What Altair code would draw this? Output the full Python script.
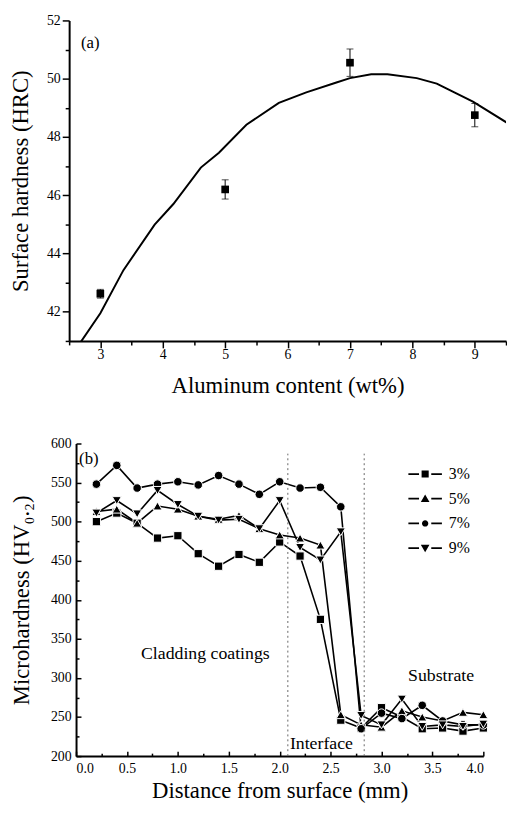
import altair as alt
import pandas as pd

FONT = "Liberation Serif"

# ---------------- panel (a) data ----------------
al_content = [3, 5, 7, 9]
surface_hrc = [42.62, 46.2, 50.55, 48.75]
hrc_err = [0.15, 0.33, 0.47, 0.40]

fit_x = [2.65, 3.0, 3.37, 3.87, 4.17, 4.61, 4.9, 5.34, 5.86, 6.3, 6.77, 7.0, 7.34, 7.6, 8.07, 8.39, 8.97, 9.53]
fit_y = [40.85, 41.95, 43.43, 44.99, 45.7, 46.95, 47.46, 48.42, 49.17, 49.53, 49.86, 50.02, 50.15, 50.15, 50.02, 49.83, 49.21, 48.47]

# ---------------- panel (b) data ----------------
distance = [0.2, 0.4, 0.6, 0.8, 1.0, 1.2, 1.4, 1.6, 1.8, 2.0,
            2.2, 2.4, 2.6, 2.8, 3.0, 3.2, 3.4, 3.6, 3.8, 4.0]
hv_3 = [500, 511, 498, 479, 482, 459, 443, 458, 448, 474, 456, 375, 246, 236, 262, 250, 235, 236, 232, 236]
hv_5 = [513, 516, 498, 520, 516, 507, 503, 508, 491, 483, 479, 470, 253, 240, 237, 258, 250, 245, 256, 253]
hv_7 = [548, 572, 543, 548, 551, 547, 559, 548, 535, 551, 543, 544, 519, 235, 255, 248, 265, 245, 240, 240]
hv_9 = [511, 527, 510, 540, 522, 507, 502, 503, 491, 527, 467, 451, 487, 252, 240, 273, 238, 240, 238, 241]
series_names = ["3%", "5%", "7%", "9%"]
series_shapes = ["square", "triangle-up", "circle", "triangle-down"]
series_sizes = [70, 85, 75, 85]

boundary_x = [2.08, 2.83]
boundary_lo = [200, 200]
boundary_hi = [587, 587]

notes_b = ["Cladding coatings", "Interface", "Substrate"]
notes_b_x = [1.27, 2.41, 3.585]
notes_b_y = [330, 216, 303]

# legend symbols: two short bars + marker (all filled)
_bars = "M-1.7,-0.09H-0.62V0.09H-1.7ZM0.62,-0.09H1.7V0.09H0.62Z"
legend_paths = [
    _bars + "M-0.36,-0.36H0.36V0.36H-0.36Z",
    _bars + "M0,-0.44L0.44,0.34L-0.44,0.34Z",
    _bars + "M0.32,0A0.32,0.32,0,1,1,-0.32,0A0.32,0.32,0,1,1,0.32,0Z",
    _bars + "M0,0.44L0.44,-0.34L-0.44,-0.34Z",
]

# ---------------- frames ----------------
pts = pd.DataFrame({
    "al": al_content,
    "hrc": surface_hrc,
    "lo": [h - e for h, e in zip(surface_hrc, hrc_err)],
    "hi": [h + e for h, e in zip(surface_hrc, hrc_err)],
})
caps = pd.DataFrame({
    "al": al_content + al_content,
    "cap": list(pts["lo"]) + list(pts["hi"]),
})
fit = pd.DataFrame({"al": fit_x, "hrc": fit_y})
label_a = pd.DataFrame({"al": [2.69], "hrc": [51.23], "t": ["(a)"]})

rows = []
for name, shp, sz, vals in zip(series_names, series_shapes, series_sizes, [hv_3, hv_5, hv_7, hv_9]):
    for d, v in zip(distance, vals):
        rows.append({"d": d, "hv": v, "series": name, "sym": shp, "msize": sz})
prof = pd.DataFrame(rows)
bounds = pd.DataFrame({"d": boundary_x, "lo": boundary_lo, "hi": boundary_hi})
notes = pd.DataFrame({"d": notes_b_x, "hv": notes_b_y, "t": notes_b})
label_b = pd.DataFrame({"d": [0.03], "hv": [580], "t": ["(b)"]})

# ---------------- panel (a) ----------------
xs_a = alt.Scale(domain=[2.5, 9.5], nice=False, zero=False)
ys_a = alt.Scale(domain=[41, 52], nice=False, zero=False)

xa_major = alt.Axis(orient="bottom", title="Aluminum content (wt%)", values=[3, 4, 5, 6, 7, 8, 9],
                    format="d", tickSize=7, labelPadding=0, titlePadding=13,
                    domainWidth=2, tickWidth=1.5)
ya_major = alt.Axis(orient="left", title="Surface hardness (HRC)", values=[42, 44, 46, 48, 50, 52],
                    format="d", tickSize=7, labelPadding=2, titlePadding=14,
                    domainWidth=2, tickWidth=1.5)
xa_minor = alt.Axis(orient="bottom", title=None, values=[2.5, 3.5, 4.5, 5.5, 6.5, 7.5, 8.5, 9.5],
                    labels=False, domain=False, tickSize=4, tickWidth=1.5)
ya_minor = alt.Axis(orient="left", title=None, values=[41, 43, 45, 47, 49, 51],
                    labels=False, domain=False, tickSize=4, tickWidth=1.5)

curve = alt.Chart(fit).mark_line(color="black", strokeWidth=2, clip=True).encode(
    x=alt.X("al:Q", scale=xs_a, axis=xa_major),
    y=alt.Y("hrc:Q", scale=ys_a, axis=ya_major),
)
err = alt.Chart(pts).mark_rule(color="black", strokeWidth=1).encode(
    x=alt.X("al:Q", scale=xs_a, axis=None),
    y=alt.Y("lo:Q", scale=ys_a, axis=None),
    y2="hi:Q",
)
cap = alt.Chart(caps).mark_tick(color="black", thickness=1, size=7, orient="horizontal").encode(
    x=alt.X("al:Q", scale=xs_a, axis=None),
    y=alt.Y("cap:Q", scale=ys_a, axis=None),
)
sq = alt.Chart(pts).mark_point(shape="square", filled=True, color="black", size=60, opacity=1).encode(
    x=alt.X("al:Q", scale=xs_a, axis=xa_minor),
    y=alt.Y("hrc:Q", scale=ys_a, axis=ya_minor),
)
ta = alt.Chart(label_a).mark_text(align="left", baseline="middle", font=FONT, fontSize=17).encode(
    x=alt.X("al:Q", scale=xs_a, axis=None),
    y=alt.Y("hrc:Q", scale=ys_a, axis=None),
    text="t:N",
)
top = alt.layer(curve, err, cap, sq, ta).resolve_axis(
    x="independent", y="independent"
).properties(width=443, height=325)

# ---------------- panel (b) ----------------
# plot starts 7px to the right of the shared left edge, like the reference
xs_b = alt.Scale(domain=[0, 4], nice=False, zero=False, range=[7, 420])
ys_b = alt.Scale(domain=[200, 600], nice=False, zero=False)

x_major = [0, 0.5, 1.0, 1.5, 2.0, 2.5, 3.0, 3.5, 4.0]
x_minor = [0.25, 0.75, 1.25, 1.75, 2.25, 2.75, 3.25, 3.75]
y_major = [200, 250, 300, 350, 400, 450, 500, 550, 600]
y_minor = [225, 275, 325, 375, 425, 475, 525, 575]

xA = alt.Axis(orient="bottom", title="Distance from surface (mm)", values=x_major, format=".1f",
              ticks=False, tickSize=0, labelPadding=6, titlePadding=4, domainWidth=2)
yA = alt.Axis(orient="left", title="Microhardness (HV₀.₂)", values=y_major, format="d",
              ticks=False, tickSize=0, labelPadding=5, titlePadding=17, domainWidth=2, offset=-7)
xB = alt.Axis(orient="bottom", title=None, values=x_major, labels=False, domain=False,
              tickSize=5, offset=-5, tickWidth=1.5)
yB = alt.Axis(orient="left", title=None, values=y_major, labels=False, domain=False,
              tickSize=5, offset=-12, tickWidth=1.5)
xC = alt.Axis(orient="bottom", title=None, values=x_minor, labels=False, domain=False,
              tickSize=3, offset=-3, tickWidth=1.5)
yC = alt.Axis(orient="left", title=None, values=y_minor, labels=False, domain=False,
              tickSize=3, offset=-10, tickWidth=1.5)

lines = alt.Chart(prof).mark_line(color="black", strokeWidth=1.6).encode(
    x=alt.X("d:Q", scale=xs_b, axis=xA),
    y=alt.Y("hv:Q", scale=ys_b, axis=yA),
    detail="series:N",
    order="d:Q",
)
marks = alt.Chart(prof).mark_point(filled=True, fill="black", stroke="white", strokeWidth=1.0, opacity=1).encode(
    x=alt.X("d:Q", scale=xs_b, axis=xB),
    y=alt.Y("hv:Q", scale=ys_b, axis=yB),
    shape=alt.Shape("sym:N", scale=None, legend=None),
    size=alt.Size("msize:Q", scale=None, legend=None),
)
dots = alt.Chart(bounds).mark_rule(color="#666666", strokeDash=[2, 3], strokeWidth=1).encode(
    x=alt.X("d:Q", scale=xs_b, axis=xC),
    y=alt.Y("lo:Q", scale=ys_b, axis=yC),
    y2="hi:Q",
)
txt = alt.Chart(notes).mark_text(align="center", baseline="middle", font=FONT, fontSize=18).encode(
    x=alt.X("d:Q", scale=xs_b, axis=None),
    y=alt.Y("hv:Q", scale=ys_b, axis=None),
    text="t:N",
)
tb = alt.Chart(label_b).mark_text(align="left", baseline="middle", font=FONT, fontSize=17).encode(
    x=alt.X("d:Q", scale=xs_b, axis=None),
    y=alt.Y("hv:Q", scale=ys_b, axis=None),
    text="t:N",
)
leg = alt.Chart(prof).transform_filter("false").mark_point(
    filled=True, color="black", opacity=1
).encode(
    shape=alt.Shape(
        "series:N",
        scale=alt.Scale(domain=series_names, range=legend_paths),
        legend=alt.Legend(
            title=None, orient="none", legendX=350, legendY=20, symbolSize=400,
            labelOffset=13, labelFont=FONT, labelFontSize=16, rowPadding=6, padding=0,
            symbolFillColor="black", symbolOpacity=1, labelColor="black",
        ),
    ),
)
bottom = alt.layer(lines, marks, dots, txt, tb, leg).resolve_scale(
    shape="independent"
).resolve_axis(x="independent", y="independent").properties(width=420, height=317)

chart = alt.vconcat(top, bottom, spacing=40).properties(
    padding={"left": 2, "top": 0, "right": 0, "bottom": 0}
).configure_view(stroke=None).configure_axis(
    labelFont=FONT, labelFontSize=14, labelColor="black",
    titleFont=FONT, titleFontSize=23, titleFontWeight="normal", titleColor="black",
    domainColor="black", tickColor="black", grid=False,
)

chart.save("out.html", embed_options={"renderer": "svg", "actions": False})
